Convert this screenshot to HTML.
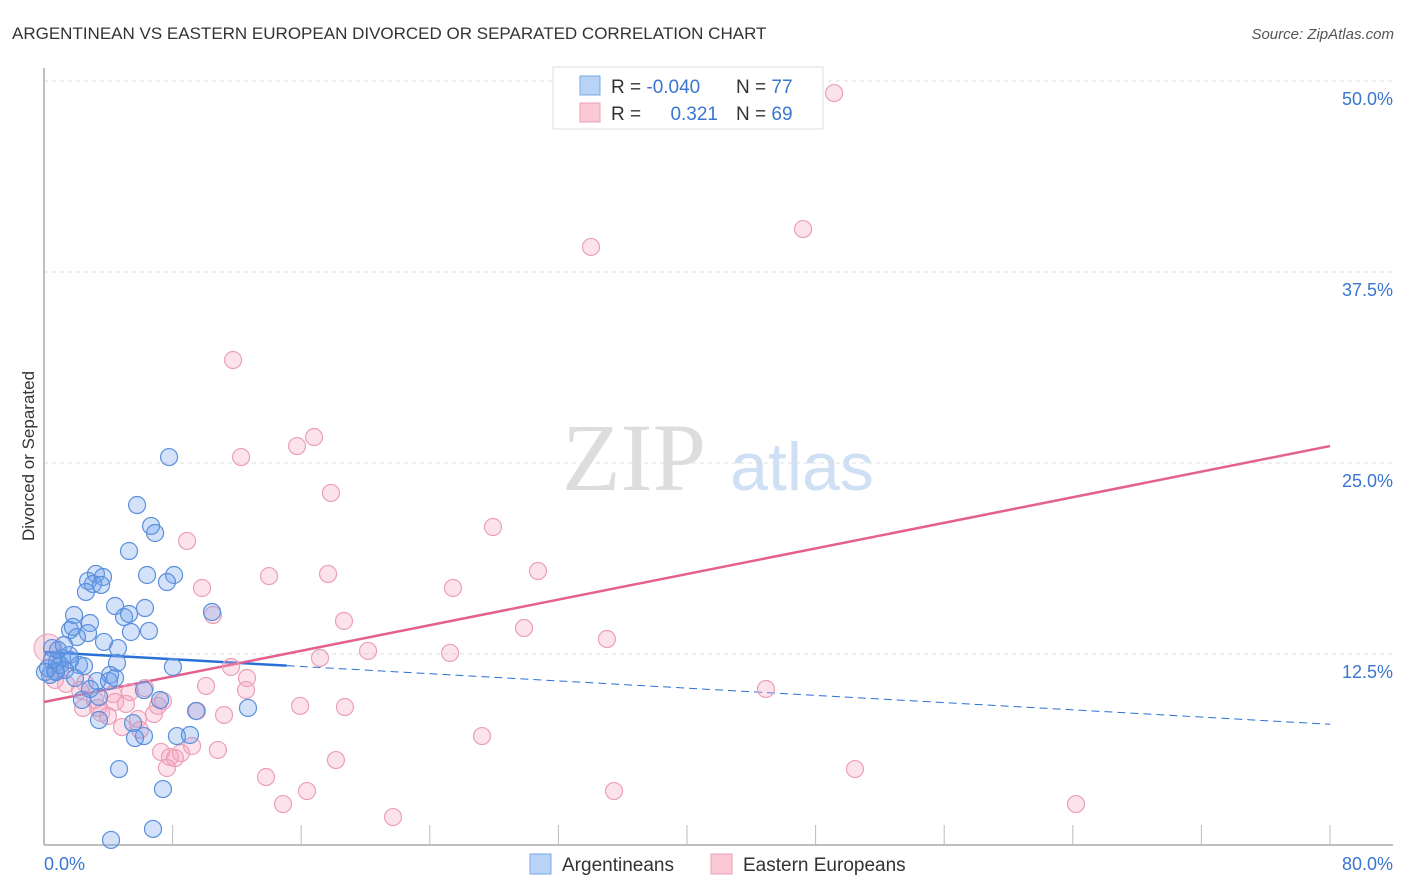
<!DOCTYPE html>
<html><head><meta charset="utf-8"><style>
body{margin:0;background:#fff;font-family:"Liberation Sans",sans-serif;}
svg{display:block}
</style></head><body>
<svg id="chart" width="1406" height="892">
<text x="12" y="39" font-size="17" fill="#333">ARGENTINEAN VS EASTERN EUROPEAN DIVORCED OR SEPARATED CORRELATION CHART</text>
<text x="1394" y="39" font-size="15" fill="#555" text-anchor="end" font-style="italic">Source: ZipAtlas.com</text>
<text x="34" y="456" font-size="17" fill="#333" text-anchor="middle" transform="rotate(-90 34 456)">Divorced or Separated</text>
<g>
<text x="634" y="490" font-size="96" font-family="Liberation Serif,serif" fill="#ddd" text-anchor="middle">ZIP</text>
<text x="802" y="490" font-size="68" fill="#cfe0f5" text-anchor="middle">atlas</text>
</g>
<g id="grid"></g><g id="axes"></g><g id="trend"></g><g id="pts"></g>
<g>
<rect x="553" y="67" width="270" height="62" fill="#fff" stroke="#ddd"/>
<rect x="580" y="76" width="20" height="19" fill="#b8d3f5" stroke="#7aa8e6"/>
<rect x="580" y="103" width="20" height="19" fill="#fbc8d6" stroke="#eca0b8"/>
<text x="611" y="93" font-size="19" fill="#333">R = <tspan fill="#3a75d0">-0.040</tspan></text>
<text x="736" y="93" font-size="19" fill="#333">N = <tspan fill="#3a75d0">77</tspan></text>
<text x="611" y="120" font-size="19" fill="#333">R = </text>
<text x="718" y="120" font-size="19" fill="#3a75d0" text-anchor="end">0.321</text>
<text x="736" y="120" font-size="19" fill="#333">N = <tspan fill="#3a75d0">69</tspan></text>
</g>
<g>
<rect x="530" y="854" width="21" height="20" fill="#b8d3f5" stroke="#7aa8e6"/>
<text x="562" y="871" font-size="19" fill="#333">Argentineans</text>
<rect x="711" y="854" width="21" height="20" fill="#fbc8d6" stroke="#eca0b8"/>
<text x="743" y="871" font-size="19" fill="#333">Eastern Europeans</text>
</g>
</svg>
<script>
const yTicks=[12.5,25,37.5,50];
const yTickLabels=["12.5%","25.0%","37.5%","50.0%"];
const xTickLabels=["0.0%","80.0%"];
const blueX=[7.78,5.79,6.66,6.91,5.29,6.41,8.09,7.65,3.23,3.67,2.74,3.05,3.55,2.61,4.42,6.28,4.98,5.29,1.87,10.45,6.53,1.62,1.80,2.86,2.74,5.41,3.73,2.05,4.60,0.50,1.12,0.81,1.56,4.54,2.18,2.49,8.02,0.68,0.37,4.11,4.04,3.30,4.42,6.22,3.42,7.22,2.36,9.46,12.69,3.42,5.54,6.22,8.27,5.66,9.08,4.67,7.40,6.78,4.17,1.00,1.31,0.25,0.75,0.50,0.87,1.62,1.93,2.86,1.24,0.06];
const blueY=[25.39,22.25,20.88,20.42,19.24,17.67,17.67,17.21,17.74,17.54,17.28,17.08,17.02,16.56,15.64,15.51,14.92,15.12,15.05,15.25,14.01,14.07,14.27,14.53,13.87,13.94,13.29,13.61,12.89,12.89,12.24,11.98,12.43,11.91,11.78,11.71,11.65,11.39,11.13,11.13,10.73,10.73,10.93,10.14,9.69,9.49,9.49,8.77,8.97,8.18,7.98,7.13,7.13,7.00,7.20,4.97,3.66,1.05,0.33,11.78,11.45,11.58,11.32,12.11,12.76,12.11,10.93,10.21,13.09,11.32];
const pinkX=[49.15,47.22,34.03,11.76,16.80,15.74,12.26,17.85,27.93,8.90,30.73,14.00,17.67,9.83,25.44,10.51,18.66,29.86,35.02,20.16,25.26,17.17,11.63,12.63,44.91,12.57,10.08,6.28,5.35,4.29,2.55,1.00,0.68,1.37,2.24,3.55,4.42,5.10,3.36,3.98,4.85,5.85,6.84,7.09,7.40,9.52,11.20,15.93,18.72,7.28,7.84,8.52,9.21,7.65,8.15,10.82,27.25,13.81,18.16,50.45,14.87,16.36,35.46,21.71,64.20,5.97,2.43,3.17];
const pinkY=[49.21,40.31,39.14,31.74,26.70,26.11,25.39,23.04,20.81,19.90,17.93,17.60,17.74,16.82,16.82,15.05,14.66,14.20,13.48,12.70,12.57,12.24,11.65,10.93,10.21,10.14,10.41,10.27,10.01,9.88,10.60,11.45,10.80,10.54,10.14,8.64,9.36,9.23,8.97,8.44,7.72,8.25,8.57,9.10,9.42,8.77,8.51,9.10,9.03,6.09,5.76,6.02,6.48,5.04,5.69,6.22,7.13,4.45,5.56,4.97,2.68,3.53,3.53,1.83,2.68,7.53,8.97,9.49];
const bigPink=[0.25,12.89];
const blueTrend=[12.63,7.9]; // value at x=0 and x=80
const pinkTrend=[9.36,26.11];
const blueSolidEnd=15.1;

const NS="http://www.w3.org/2000/svg";
const X=v=>44+v*1286/80, Y=v=>845-v*191/12.5;
function mk(tag,attrs,parent){const e=document.createElementNS(NS,tag);for(const k in attrs)e.setAttribute(k,attrs[k]);document.getElementById(parent).appendChild(e);return e;}
yTicks.forEach((t,i)=>{
  const g=mk('line',{x1:44,x2:1393,y1:Y(t),y2:Y(t),stroke:'#ddd','stroke-dasharray':'4,4'},'grid');
  
  
  const tx=mk('text',{x:1393,y:Y(t)+24,'font-size':18,fill:'#3a75d0','text-anchor':'end'},'grid');
  tx.textContent=yTickLabels[i];
  
  
});
const ax=mk('line',{x1:44,x2:44,y1:68,y2:845,stroke:'#aaa','stroke-width':1.5},'axes');


const bx=mk('line',{x1:44,x2:1393,y1:845,y2:845,stroke:'#aaa','stroke-width':1.5},'axes');


for(let i=1;i<=10;i++){const t=mk('line',{x1:X(i*8),x2:X(i*8),y1:825,y2:845,stroke:'#bbb'},'axes');
  
  }
[[0,'start'],[80,'end']].forEach((p,i)=>{const t=mk('text',{x:i?1393:44,y:870,'font-size':18,fill:'#3a75d0','text-anchor':p[1]},'axes');t.textContent=xTickLabels[i];
  
  });
const bAt=x=>blueTrend[0]+(blueTrend[1]-blueTrend[0])*x/80;
let l=mk('line',{x1:X(0),y1:Y(bAt(0)),x2:X(blueSolidEnd),y2:Y(bAt(blueSolidEnd)),stroke:'#2a6fd6','stroke-width':2.5},'trend');


l=mk('line',{x1:X(blueSolidEnd),y1:Y(bAt(blueSolidEnd)),x2:X(80),y2:Y(bAt(80)),stroke:'#2a6fd6','stroke-width':1,'stroke-dasharray':'8,5'},'trend');


l=mk('line',{x1:X(0),y1:Y(pinkTrend[0]),x2:X(80),y2:Y(pinkTrend[1]),stroke:'#e4608e','stroke-width':2.5},'trend');


let c=mk('circle',{cx:X(bigPink[0]),cy:Y(bigPink[1]),r:14,fill:'rgba(240,150,180,0.3)',stroke:'#eca0b8'},'pts');


pinkX.forEach((x,i)=>{const c=mk('circle',{cx:X(x),cy:Y(pinkY[i]),r:8.5,fill:'rgba(245,160,190,0.3)',stroke:'#eca0b8','stroke-width':1.2},'pts');
  
  });
blueX.forEach((x,i)=>{const c=mk('circle',{cx:X(x),cy:Y(blueY[i]),r:8.5,fill:'rgba(110,160,235,0.3)',stroke:'#5a8fdc','stroke-width':1.2},'pts');
  
  });
</script>
</body></html>
